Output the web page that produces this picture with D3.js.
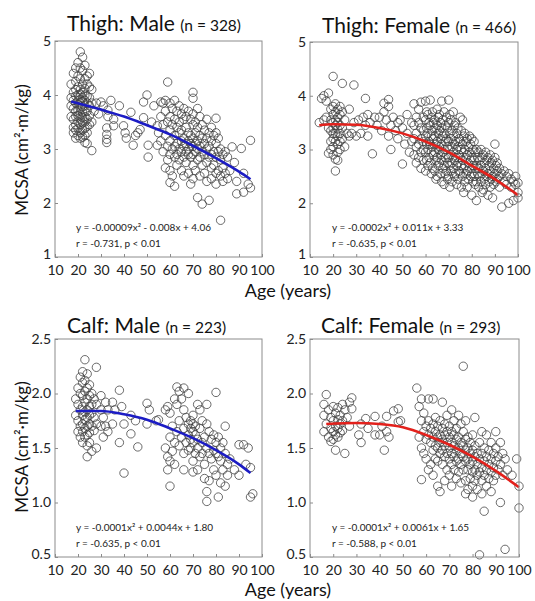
<!DOCTYPE html>
<html>
<head>
<meta charset="utf-8">
<script src="https://cdn.jsdelivr.net/npm/d3@7"></script>
<style>
  html, body { margin: 0; padding: 0; background: #fff; }
  svg { display: block; font-family: Lato, "Open Sans", sans-serif; }
</style>
</head>
<body>
<svg id="chart" width="535" height="601"></svg>
<script>
// eixos
const xTicks = [10, 20, 30, 40, 50, 60, 70, 80, 90, 100];
const thighTicks = [1, 2, 3, 4, 5];
const calfTicks = [0.5, 1.0, 1.5, 2.0, 2.5];

const titles = ["Thigh: Male", "Thigh: Female", "Calf: Male", "Calf: Female"];
const counts = ["(n = 328)", "(n = 466)", "(n = 223)", "(n = 293)"];
const equations = [
  "y = -0.00009x\u00B2 - 0.008x + 4.06",
  "y = -0.0002x\u00B2 + 0.011x + 3.33",
  "y = -0.0001x\u00B2 + 0.0044x + 1.80",
  "y = -0.0001x\u00B2 + 0.0061x + 1.65"
];
const stats = [
  "r = -0.731, p < 0.01",
  "r = -0.635, p < 0.01",
  "r = -0.635, p < 0.01",
  "r = -0.588, p < 0.01"
];

// pontos: [idade, [valores MCSA]]
const thighMale = [
  [17, [4.2, 3.95, 3.8, 3.6]], [18, [4.4, 4.05, 3.9, 3.75, 3.55, 3.4, 3.3]],
  [19, [4.5, 4.25, 4.1, 3.98, 3.85, 3.7, 3.6, 3.45, 3.35, 3.2]],
  [20, [4.6, 4.35, 4.15, 4.0, 3.9, 3.82, 3.72, 3.62, 3.5, 3.38, 3.25]],
  [21, [4.8, 4.5, 4.3, 4.1, 4.02, 3.92, 3.85, 3.75, 3.65, 3.55, 3.45, 3.3, 3.2]],
  [22, [4.7, 4.45, 4.2, 4.05, 3.95, 3.88, 3.78, 3.68, 3.58, 3.48, 3.35, 3.22]],
  [23, [4.55, 4.3, 4.12, 4.0, 3.9, 3.8, 3.7, 3.6, 3.5, 3.38, 3.25, 3.12]],
  [24, [4.35, 4.2, 3.98, 3.85, 3.7, 3.55, 3.42, 3.3, 3.1]],
  [25, [4.4, 4.15, 3.95, 3.8, 3.62, 3.45]], [26, [4.1, 3.85, 3.5, 2.97]],
  [27, [3.7]], [28, [3.85]], [29, [3.65]], [30, [3.87]], [31, [3.8]],
  [32.5, [3.39, 3.27, 3.18, 3.12]], [33, [3.72, 3.6]], [34.3, [3.9]], [35.5, [3.55, 3.43]],
  [38, [3.8]], [39.8, [3.43]], [40.5, [3.3]], [41, [3.2]], [43, [3.68]], [44, [3.07]],
  [45, [3.25]], [46, [3.3]], [47, [3.36]], [48.5, [3.87, 3.58]], [50, [4.0]],
  [50.5, [3.07, 2.85]], [52, [3.5]], [53, [3.8]], [54.5, [3.43, 3.07]],
  [55, [3.3]], [56, [3.87, 3.6, 3.15]], [57, [3.85, 3.45, 2.95]], [58, [3.9, 3.7, 3.25, 2.65]],
  [59, [4.24, 3.5, 3.05, 2.8]], [60, [3.85, 3.6, 3.35, 3.15, 2.9, 2.6, 2.38]],
  [61, [3.75, 3.45, 3.0, 2.5]], [62, [3.9, 3.55, 3.25, 3.05, 2.85, 2.31]],
  [63, [3.7, 3.4, 3.1, 2.9, 2.7]], [64, [3.8, 3.5, 3.3, 3.0, 2.8]],
  [65, [3.65, 3.35, 3.15, 2.95, 2.6]], [66, [3.75, 3.55, 3.2, 3.05, 2.85, 2.5]],
  [67, [3.6, 3.4, 3.1, 2.95, 2.75]], [68, [3.7, 3.3, 3.15, 3.0, 2.9, 2.55]],
  [69, [3.55, 3.25, 3.1, 2.85, 2.35]], [70, [4.05, 3.94, 3.65, 3.45, 3.2, 3.05, 2.9, 2.7, 2.45]],
  [71, [3.5, 3.3, 3.1, 2.95, 2.6]], [72, [3.75, 3.4, 3.15, 3.0, 2.8, 2.1]],
  [73, [3.6, 3.25, 3.05, 2.85, 2.5]], [74, [3.45, 3.2, 2.95, 2.7, 1.98]],
  [75, [3.35, 3.1, 2.9, 2.55]], [76, [3.55, 3.2, 3.0, 2.75, 2.4]],
  [77, [3.3, 3.05, 2.85, 2.05]], [78, [3.4, 3.15, 2.9, 2.65, 2.45]],
  [79, [3.25, 2.95, 2.7]], [80, [3.57, 3.3, 3.1, 2.85, 2.55, 2.35]],
  [81, [3.2, 2.95, 2.6]], [82, [3.0, 2.8, 2.5, 1.68]], [83, [2.9, 2.65, 2.4]],
  [84, [2.95, 2.55]], [85, [2.85, 2.45]], [86, [2.6]], [87, [3.04]], [88, [2.75]],
  [89, [2.4, 2.17]], [91, [3.01]], [92, [2.55, 2.2]], [94, [2.35]], [95, [3.16, 2.28]]
];

const thighFemale = [
  [14, [3.5]], [15, [3.95]], [16, [4.0, 3.55]], [17, [3.9, 3.6]], [18, [4.05, 3.4, 2.93]],
  [19, [3.75, 3.55, 3.35, 3.15, 3.0]], [20, [4.36, 3.8, 3.65, 3.5, 3.4, 3.3, 3.2, 3.05, 2.9]],
  [21, [3.85, 3.7, 3.55, 3.45, 3.3, 3.15, 2.82, 2.6]],
  [22, [3.75, 3.6, 3.5, 3.38, 3.25, 3.1, 2.95, 2.8]],
  [23, [3.8, 3.65, 3.45, 3.3, 3.15, 3.0]], [24, [4.23, 3.7, 3.4, 3.2]],
  [25, [3.55, 3.05]], [26, [3.3]], [27, [3.75, 3.25]], [28, [3.3]], [29, [4.2, 3.5]],
  [30, [3.25]], [31, [3.55]], [32, [3.3]], [33, [3.6]], [34, [3.95, 3.45]], [35, [3.65, 3.25]],
  [36, [3.5]], [37, [2.92]], [38, [3.6]], [39, [3.45]], [40, [3.6]], [41, [3.35]],
  [42, [3.86, 3.7]], [43, [3.55]], [44, [3.93, 3.8, 3.25]], [45, [3.45, 3.0]], [46, [3.6]],
  [47, [3.35]], [48, [3.5, 3.2]], [49, [3.55]], [50, [3.4, 2.73]], [51, [3.1]],
  [52, [3.65, 3.3]], [53, [2.95]], [54, [3.5, 3.15]],
  [55, [3.85, 3.45, 3.2, 2.9]], [56, [3.6, 3.3, 3.05, 2.75]], [57, [3.75, 3.5, 3.1, 2.85]],
  [58, [3.88, 3.4, 3.2, 2.95, 2.65]], [59, [3.6, 3.35, 3.15, 3.0, 2.8]],
  [60, [3.9, 3.55, 3.25, 2.95, 2.6]], [60.5, [3.7, 3.4, 3.1, 2.8]],
  [61, [3.65, 3.3, 3.0, 2.7]], [61.5, [3.5, 3.15, 2.85]],
  [62, [3.92, 3.45, 3.1, 2.75]], [62.5, [3.6, 3.25, 2.95, 2.55]],
  [63, [3.7, 3.35, 3.05, 2.65]], [63.5, [3.5, 3.2, 2.9]],
  [64, [3.55, 3.25, 2.95, 2.6]], [64.5, [3.4, 3.1, 2.8, 2.45]],
  [65, [3.75, 3.45, 3.15, 2.85, 2.5]], [65.5, [3.6, 3.3, 3.0, 2.7]],
  [66, [3.65, 3.35, 3.05, 2.75]], [66.5, [3.5, 3.2, 2.9, 2.55]],
  [67, [3.9, 3.4, 3.1, 2.8, 2.4]], [67.5, [3.55, 3.25, 2.95, 2.65]],
  [68, [3.7, 3.3, 3.0, 2.7, 2.35]], [68.5, [3.45, 3.15, 2.85, 2.55]],
  [69, [3.6, 3.2, 2.9, 2.6]], [69.5, [3.4, 3.05, 2.75, 2.45]],
  [70, [3.92, 3.5, 3.15, 2.85, 2.5]], [70.5, [3.65, 3.3, 3.0, 2.7, 2.3]],
  [71, [3.55, 3.2, 2.9, 2.6]], [71.5, [3.35, 3.05, 2.75, 2.4]],
  [72, [3.7, 3.25, 2.95, 2.65]], [72.5, [3.45, 3.1, 2.8, 2.5]],
  [73, [3.5, 3.15, 2.85, 2.55]], [73.5, [3.3, 3.0, 2.7, 2.35]],
  [74, [3.4, 3.05, 2.75, 2.45]], [74.5, [3.2, 2.9, 2.6]],
  [75, [3.6, 3.15, 2.85, 2.55]], [75.5, [3.35, 3.0, 2.7, 2.3]],
  [76, [3.55, 3.1, 2.8, 2.5]], [76.5, [3.25, 2.95, 2.65, 2.2]],
  [77, [3.3, 3.0, 2.7, 2.4]], [77.5, [3.15, 2.85, 2.55]],
  [78, [3.2, 2.9, 2.6, 2.3]], [78.5, [3.05, 2.75, 2.45]],
  [79, [3.25, 2.95, 2.65]], [79.5, [3.1, 2.8, 2.5]],
  [80, [3.2, 2.85, 2.55, 2.15]], [80.5, [3.0, 2.7, 2.4]],
  [81, [3.15, 2.8, 2.5]], [81.5, [2.95, 2.65, 2.35]],
  [82, [3.0, 2.7, 2.4, 2.05]], [82.5, [2.85, 2.55]],
  [83, [2.95, 2.65, 2.3]], [83.5, [2.8, 2.5]],
  [84, [3.0, 2.7, 2.4]], [84.5, [2.85, 2.55, 2.2]],
  [85, [2.9, 2.6, 2.25]], [85.5, [2.75, 2.45]],
  [86, [2.95, 2.65, 2.35]], [86.5, [2.8, 2.5]],
  [87, [2.85, 2.55, 2.15]], [87.5, [2.7, 2.4]],
  [88, [2.9, 2.6, 2.3]], [88.5, [2.75, 2.45]],
  [89, [2.8, 2.5, 2.1]], [89.5, [2.65, 2.35]], [90, [3.1, 2.85, 2.55]], [90.5, [2.7, 2.4]],
  [91, [2.75, 2.6, 2.45]], [92, [2.65, 2.5, 2.3]], [93, [2.55, 1.93]], [94, [2.6, 2.4]],
  [95, [2.5, 2.35]], [96, [2.55, 2.0]], [97, [2.45, 2.3]], [98, [2.4, 2.05]],
  [99, [2.5, 2.35]], [100, [2.38, 2.2, 2.1]]
];

const calfMale = [
  [19, [1.95, 1.8]], [20, [2.05, 1.9, 1.75, 1.65]], [21, [2.15, 2.0, 1.85, 1.7, 1.6]],
  [22, [2.2, 2.1, 1.98, 1.88, 1.8, 1.72, 1.65, 1.55]],
  [23, [2.31, 2.12, 2.02, 1.92, 1.83, 1.76, 1.68, 1.6]],
  [24, [2.18, 2.05, 1.95, 1.85, 1.78, 1.7, 1.62, 1.52, 1.42]],
  [25, [2.08, 1.98, 1.88, 1.8, 1.72, 1.64, 1.55]], [26, [2.0, 1.9, 1.82, 1.7, 1.47]],
  [27, [1.95, 1.78, 1.66]], [28, [2.24, 1.9, 1.72, 1.5]], [30, [1.98, 1.85, 1.7]],
  [31, [1.78, 1.6]], [32, [1.92, 1.7]], [33, [1.85, 1.65]], [35, [1.92, 1.72]], [36, [1.85]],
  [38, [2.03, 1.55]], [39, [1.88]], [40, [1.72, 1.27]], [43, [1.8, 1.63]], [45, [1.75]],
  [46, [1.51]], [50, [1.91, 1.72]], [51, [1.85]], [54, [1.75]], [55, [1.76]],
  [58, [1.85, 1.5]], [59, [1.88, 1.42, 1.3]], [60, [1.82, 1.6, 1.38, 1.15]],
  [61, [1.7, 1.47]], [62, [1.95, 1.55, 1.35]], [63, [2.06, 1.9, 1.65]], [64, [2.02, 1.75, 1.52]],
  [65, [1.95, 1.6]], [66, [2.05, 1.85, 1.68, 1.45, 1.3]], [67, [1.78, 1.55]],
  [68, [2.0, 1.72, 1.62, 1.48]], [69, [1.75, 1.68, 1.58, 1.5]],
  [70, [1.8, 1.72, 1.65, 1.55, 1.38, 1.28]], [71, [1.7, 1.62, 1.45]],
  [72, [1.9, 1.58, 1.5, 1.3]], [73, [1.85, 1.68, 1.42]], [74, [1.75, 1.55, 1.45]],
  [75, [1.6, 1.35, 1.22]], [76, [1.9, 1.72, 1.5, 1.1, 1.01]], [77, [1.65, 1.45, 1.2]],
  [78, [1.58, 1.4]], [79, [1.62, 1.48, 1.3]], [80, [2.01, 1.55, 1.45, 1.25]],
  [81, [1.6, 1.42, 1.05]], [82, [1.5, 1.38, 1.18]], [83, [1.55, 1.3]], [84, [1.7, 1.45, 1.15]],
  [85, [1.35, 1.25]], [86, [1.4]], [88, [1.3]], [90, [1.53, 1.25]], [92, [1.53]],
  [93, [1.35]], [94, [1.5]], [95, [1.32, 1.05]], [96, [1.08]]
];

const calfFemale = [
  [16, [1.9, 1.8, 1.65]], [17, [1.99, 1.72]], [18, [1.85, 1.6]], [19, [1.78, 1.68, 1.56]],
  [20, [1.88, 1.75, 1.65, 1.58]], [21, [1.82, 1.7, 1.62, 1.48]], [22, [1.87, 1.76, 1.68, 1.6]],
  [23, [1.8, 1.72, 1.64]], [24, [1.9, 1.75, 1.66]], [25, [1.85, 1.45]], [26, [1.78]],
  [27, [1.92, 1.7]], [28, [1.96, 1.86]], [31, [1.62]], [32, [1.72, 1.55]], [34, [1.77]],
  [35, [1.68]], [38, [1.79, 1.62]], [40, [1.62]], [41, [1.7]], [42, [1.48]], [43, [1.79, 1.65]],
  [44, [1.6]], [46, [1.84]], [48, [1.86, 1.74]], [49, [1.75]], [56, [2.05]], [57, [1.88, 1.6]],
  [58, [1.95, 1.75, 1.5, 1.21]], [59, [1.82, 1.65, 1.45]], [60, [1.7, 1.58, 1.4]],
  [61, [1.95, 1.75, 1.62, 1.3]], [62, [1.68, 1.55, 1.35]], [63, [1.95, 1.72, 1.6, 1.48, 1.25]],
  [64, [1.78, 1.65, 1.52, 1.4]], [65, [1.7, 1.6, 1.5, 1.38, 1.15]],
  [66, [1.75, 1.62, 1.55, 1.45, 1.1]], [67, [1.92, 1.68, 1.58, 1.48, 1.35]],
  [68, [1.72, 1.62, 1.52, 1.42, 1.2]], [69, [1.8, 1.65, 1.55, 1.45, 1.3]],
  [70, [1.7, 1.6, 1.5, 1.4, 1.25]], [71, [1.85, 1.65, 1.55, 1.45, 1.35, 1.15]],
  [72, [1.75, 1.62, 1.52, 1.42, 1.3]], [73, [1.68, 1.58, 1.48, 1.38, 1.22]],
  [74, [1.8, 1.6, 1.5, 1.4, 1.28]], [75, [1.72, 1.55, 1.45, 1.35, 1.18]],
  [76, [2.25, 1.65, 1.52, 1.42, 1.3]], [77, [1.75, 1.58, 1.48, 1.38, 1.2, 1.08]],
  [78, [1.6, 1.5, 1.4, 1.3, 1.12]], [79, [1.55, 1.45, 1.35, 1.22]],
  [80, [1.62, 1.48, 1.38, 1.28, 1.15, 1.05]], [81, [1.78, 1.52, 1.42, 1.3, 1.2]],
  [82, [1.45, 1.35, 1.25, 1.12]], [83, [1.55, 1.4, 1.28, 0.52]],
  [84, [1.65, 1.45, 1.32, 1.2, 1.08]], [85, [1.5, 1.38, 1.25, 0.92]],
  [86, [1.62, 1.42, 1.3, 1.15]], [87, [1.48, 1.35, 1.22]], [88, [1.55, 1.4, 1.28, 1.1]],
  [89, [1.45, 1.32, 1.2]], [90, [1.65, 1.5, 1.38, 1.25]], [91, [1.42, 1.3]],
  [92, [1.55, 1.35, 1.0]], [93, [1.45, 1.25]], [94, [1.4, 0.57]], [95, [1.3]], [97, [1.25]],
  [99, [1.4]], [100, [1.15, 0.95]]
];

// curvas de ajuste
const thighMaleFit = [[17, 3.88], [30, 3.73], [40, 3.6], [50, 3.44], [60, 3.27], [70, 3.06], [80, 2.83], [90, 2.58], [95, 2.44]];
const thighFemaleFit = [[14, 3.45], [20, 3.47], [30, 3.46], [40, 3.4], [50, 3.3], [60, 3.15], [70, 2.95], [80, 2.7], [90, 2.45], [100, 2.15]];
const calfMaleFit = [[19, 1.84], [30, 1.84], [40, 1.81], [50, 1.76], [60, 1.68], [70, 1.59], [80, 1.48], [90, 1.35], [95, 1.27]];
const calfFemaleFit = [[17, 1.72], [30, 1.73], [40, 1.72], [50, 1.69], [60, 1.62], [70, 1.53], [80, 1.42], [90, 1.29], [100, 1.14]];

const svg = d3.select('#chart');

const panels = [
  { data: thighMale, fit: thighMaleFit, yTicks: thighTicks, color: '#1c1cc4',
    box: [55, 262, 41, 257], title: [67, 31] },
  { data: thighFemale, fit: thighFemaleFit, yTicks: thighTicks, color: '#e3211c',
    box: [310, 518, 42, 257], title: [322, 33] },
  { data: calfMale, fit: calfMaleFit, yTicks: calfTicks, color: '#1c1cc4',
    box: [55, 262, 339, 557], title: [67, 333] },
  { data: calfFemale, fit: calfFemaleFit, yTicks: calfTicks, color: '#e3211c',
    box: [310, 519, 339, 557], title: [321, 333] }
];

panels.forEach((p, i) => {
  const [x0, x1, y0, y1] = p.box;
  const x = d3.scaleLinear().domain([10, 100]).range([x0, x1]);
  const y = d3.scaleLinear().domain(d3.extent(p.yTicks)).range([y1, y0]);
  const g = svg.append('g');

  // pontos
  const pts = p.data.flatMap(([age, vals]) => vals.map(v => [age, v]));
  g.append('g').selectAll('circle')
    .data(pts)
    .enter()
    .append('circle')
    .attr('cx', d => x(d[0]))
    .attr('cy', d => y(d[1]))
    .attr('r', 4.2)
    .attr('fill', 'none')
    .attr('stroke', '#3c3c3c')
    .attr('stroke-opacity', 0.85)
    .attr('stroke-width', 0.9);

  // curva
  const line = d3.line().x(d => x(d[0])).y(d => y(d[1])).curve(d3.curveMonotoneX);
  g.append('path')
    .attr('d', line(p.fit))
    .attr('fill', 'none')
    .attr('stroke', p.color)
    .attr('stroke-width', 2.6);

  // moldura
  g.append('rect')
    .attr('x', x0).attr('y', y0)
    .attr('width', x1 - x0).attr('height', y1 - y0)
    .attr('fill', 'none')
    .attr('stroke', '#8c8c8c')
    .attr('stroke-width', 1);

  const xAxis = g.append('g')
    .attr('transform', `translate(0,${y1})`)
    .call(d3.axisBottom(x).tickValues(xTicks).tickSize(-3).tickPadding(8).tickFormat(d3.format('d')));
  const yAxis = g.append('g')
    .attr('transform', `translate(${x0},0)`)
    .call(d3.axisLeft(y).tickValues(p.yTicks).tickSize(-3).tickPadding(4)
      .tickFormat(i < 2 ? d3.format('d') : d3.format('.1f')));
  [xAxis, yAxis].forEach(a => {
    a.select('.domain').remove();
    a.selectAll('line').attr('stroke', '#8c8c8c');
    a.selectAll('text').attr('font-size', 14).attr('fill', '#222').attr('font-family', 'Lato, sans-serif');
  });
  // o menor valor do eixo y fica um pouco acima, como no original
  yAxis.selectAll('text').filter(d => d === p.yTicks[0]).attr('dy', '0.1em');

  // título
  const t = g.append('text')
    .attr('x', p.title[0]).attr('y', p.title[1])
    .attr('fill', '#111');
  t.append('tspan').attr('font-size', 21).text(titles[i] + ' ');
  t.append('tspan').attr('font-size', 15.5).text(counts[i]);

  // equação
  g.append('text')
    .attr('x', x0 + (i % 2 ? 22 : 21))
    .attr('y', y1 - 26)
    .attr('font-size', 10)
    .attr('fill', '#222')
    .text(equations[i]);
  g.append('text')
    .attr('x', x0 + (i % 2 ? 22 : 21))
    .attr('y', y1 - 10)
    .attr('font-size', 10)
    .attr('fill', '#222')
    .text(stats[i]);
});

// rótulos dos eixos
[150, 447].forEach(cy => {
  svg.append('text')
    .attr('transform', `translate(28,${cy}) rotate(-90)`)
    .attr('text-anchor', 'middle')
    .attr('font-size', 17)
    .attr('fill', '#111')
    .text('MCSA (cm\u00B2\u00B7m/kg)');
});
[297, 596].forEach(by => {
  svg.append('text')
    .attr('x', 288).attr('y', by)
    .attr('text-anchor', 'middle')
    .attr('font-size', 18)
    .attr('fill', '#111')
    .text('Age (years)');
});
</script>
</body>
</html>
